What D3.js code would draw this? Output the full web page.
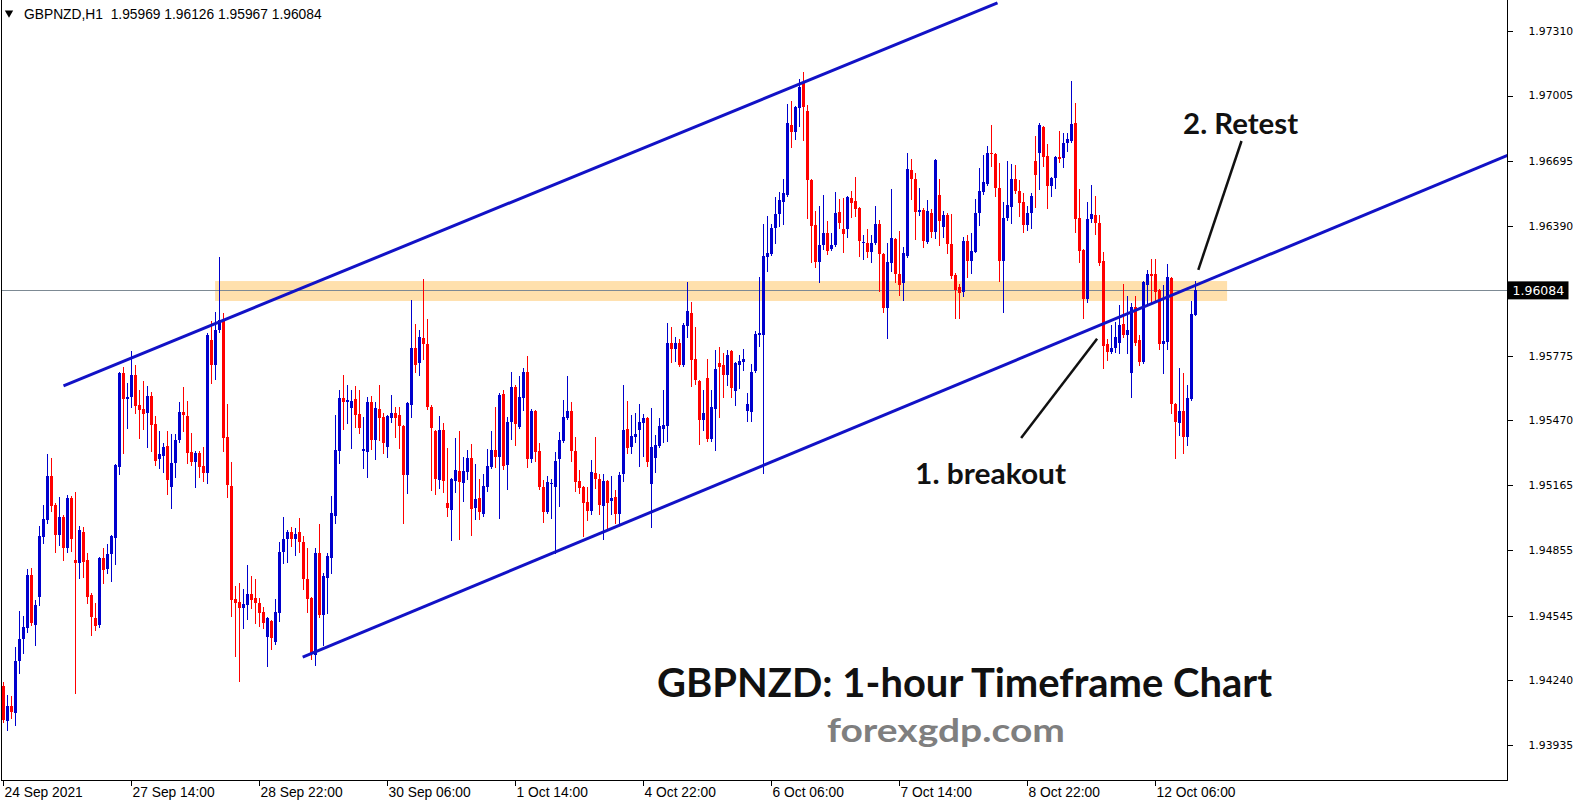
<!DOCTYPE html>
<html><head><meta charset="utf-8">
<script src="https://cdn.jsdelivr.net/npm/d3@7/dist/d3.min.js"></script>
<style>body{margin:0;background:#fff;}svg{display:block;}</style>
</head><body>
<svg id="chart" width="1579" height="807"></svg>
<script>
// ---------------- DATA ----------------
const symbolLabel = "GBPNZD,H1";
const headerOHLC = ["1.95969", "1.96126", "1.95967", "1.96084"];
const currentPrice = 1.96084;

const opens = [
1.94215,1.94049,1.94120,1.94087,1.94332,1.94436,1.94488,1.94739,1.94502,1.94635,
1.94919,1.94999,1.95207,1.95070,1.94928,1.95013,1.94866,1.95103,1.94810,1.94796,
1.94943,1.94810,1.94644,1.94536,1.94502,1.94819,1.94767,1.94838,1.94914,1.95249,
1.95694,1.95570,1.95580,1.95684,1.95542,1.95523,1.95505,1.95585,1.95453,1.95287,
1.95302,1.95349,1.95155,1.95268,1.95377,1.95510,1.95491,1.95321,1.95273,1.95316,
1.95254,1.95221,1.95850,1.95731,1.95897,1.95944,1.95391,1.95160,1.94625,1.94612,
1.94583,1.94597,1.94649,1.94630,1.94607,1.94565,1.94446,1.94521,1.94423,1.94560,
1.94848,1.94909,1.94943,1.94909,1.94943,1.94895,1.94720,1.94630,1.94360,1.94843,
1.94550,1.94725,1.94819,1.95018,1.95325,1.95575,1.95557,1.95528,1.95570,1.95500,
1.95325,1.95321,1.95557,1.95377,1.95523,1.95486,1.95344,1.95481,1.95505,1.95495,
1.95444,1.95211,1.95542,1.95812,1.95741,1.95859,1.95831,1.95533,1.95419,1.95188,
1.95424,1.95080,1.95046,1.95183,1.95230,1.95174,1.95226,1.95292,1.95056,1.95103,
1.95027,1.95155,1.95249,1.95330,1.95297,1.95594,1.95258,1.95463,1.95628,1.95439,
1.95575,1.95699,1.95287,1.95514,1.95325,1.95155,1.95037,1.95169,1.95155,1.95287,
1.95372,1.95481,1.95514,1.95325,1.95183,1.95155,1.95085,1.95041,1.95221,1.95192,
1.95066,1.95183,1.95089,1.95108,1.95027,1.95216,1.95429,1.95344,1.95391,1.95424,
1.95458,1.95481,1.95169,1.95292,1.95349,1.95429,1.95444,1.95836,1.95808,1.95836,
1.95731,1.95916,1.95978,1.95760,1.95656,1.95472,1.95670,1.95382,1.95523,1.95741,
1.95731,1.95684,1.95798,1.95608,1.95731,1.95746,1.95514,1.95510,1.95703,1.95873,
1.95873,1.96242,1.96256,1.96379,1.96445,1.96502,1.96535,1.96866,1.96833,1.96946,
1.97065,1.96932,1.96606,1.96394,1.96218,1.96299,1.96356,1.96280,1.96299,1.96455,
1.96375,1.96375,1.96521,1.96507,1.96474,1.96308,1.96308,1.96265,1.96308,1.96398,
1.96256,1.96001,1.96214,1.96327,1.96162,1.96119,1.96247,1.96653,1.96611,1.96455,
1.96464,1.96313,1.96450,1.96360,1.96535,1.96384,1.96441,1.96303,1.96157,1.96100,
1.96077,1.96318,1.96223,1.96265,1.96450,1.96549,1.96587,1.96734,1.96729,1.96568,
1.96223,1.96427,1.96479,1.96611,1.96554,1.96502,1.96394,1.96450,1.96696,1.96734,
1.96856,1.96720,1.96578,1.96616,1.96715,1.96710,1.96781,1.96791,1.96876,1.96427,
1.96275,1.96043,1.96422,1.96441,1.96403,1.96223,1.95831,1.95794,1.95812,1.95836,
1.95925,1.95873,1.95694,1.96006,1.95850,1.95746,1.96110,1.96162,1.96162,1.96086,
1.95831,1.95840,1.96143,1.95547,1.95458,1.95514,1.95391,1.95570,1.95969
];
const highs = [
1.94234,1.94171,1.94167,1.94399,1.94569,1.94546,1.94767,1.94772,1.94621,1.94971,
1.95070,1.95311,1.95292,1.95080,1.95108,1.95020,1.95117,1.95110,1.95132,1.94971,
1.94966,1.94843,1.94654,1.94607,1.94824,1.94866,1.94885,1.94930,1.95265,1.95699,
1.95722,1.95647,1.95798,1.95731,1.95613,1.95656,1.95633,1.95604,1.95491,1.95419,
1.95363,1.95419,1.95405,1.95405,1.95557,1.95628,1.95561,1.95410,1.95325,1.95325,
1.95344,1.95883,1.95939,1.95983,1.96242,1.95978,1.95547,1.95273,1.94687,1.94701,
1.94672,1.94786,1.94735,1.94720,1.94630,1.94588,1.94541,1.94526,1.94625,1.94895,
1.95013,1.94952,1.94966,1.94961,1.95008,1.94924,1.94866,1.94635,1.94866,1.94980,
1.94749,1.94843,1.95113,1.95495,1.95613,1.95684,1.95637,1.95613,1.95633,1.95613,
1.95486,1.95580,1.95585,1.95557,1.95637,1.95505,1.95495,1.95589,1.95533,1.95533,
1.95449,1.95557,1.96039,1.95925,1.95897,1.96138,1.95949,1.95540,1.95424,1.95491,
1.95458,1.95339,1.95197,1.95386,1.95419,1.95297,1.95330,1.95358,1.95263,1.95192,
1.95216,1.95334,1.95419,1.95533,1.95599,1.95613,1.95486,1.95699,1.95637,1.95680,
1.95717,1.95775,1.95523,1.95519,1.95363,1.95188,1.95207,1.95192,1.95321,1.95415,
1.95566,1.95680,1.95557,1.95391,1.95235,1.95160,1.95155,1.95282,1.95391,1.95216,
1.95216,1.95188,1.95207,1.95141,1.95226,1.95637,1.95561,1.95495,1.95505,1.95547,
1.95500,1.95486,1.95528,1.95400,1.95481,1.95613,1.95930,1.95911,1.95864,1.95855,
1.95930,1.96124,1.96030,1.95911,1.95661,1.95613,1.95760,1.95613,1.95803,1.95817,
1.95789,1.95803,1.95803,1.95745,1.95779,1.95808,1.95599,1.95736,1.95892,1.96148,
1.96398,1.96436,1.96398,1.96526,1.96549,1.96611,1.96965,1.96979,1.96956,1.97084,
1.97117,1.96960,1.96611,1.96460,1.96483,1.96535,1.96412,1.96356,1.96549,1.96516,
1.96521,1.96530,1.96554,1.96620,1.96479,1.96346,1.96375,1.96346,1.96483,1.96417,
1.96261,1.96308,1.96563,1.96332,1.96365,1.96289,1.96734,1.96706,1.96639,1.96568,
1.96474,1.96512,1.96469,1.96706,1.96611,1.96460,1.96450,1.96445,1.96167,1.96114,
1.96337,1.96346,1.96356,1.96516,1.96663,1.96724,1.96767,1.96866,1.96734,1.96687,
1.96502,1.96696,1.96682,1.96677,1.96606,1.96545,1.96483,1.96545,1.96814,1.96876,
1.96861,1.96776,1.96620,1.96720,1.96838,1.96829,1.96829,1.97074,1.96970,1.96563,
1.96280,1.96502,1.96582,1.96530,1.96441,1.96265,1.95855,1.95920,1.95935,1.96015,
1.96114,1.96058,1.96025,1.96058,1.95873,1.96128,1.96181,1.96232,1.96232,1.96091,
1.96110,1.96209,1.96148,1.95552,1.95717,1.95694,1.95637,1.96034,1.96126
];
const lows = [
1.94045,1.94006,1.94063,1.94030,1.94276,1.94370,1.94470,1.94502,1.94408,1.94597,
1.94890,1.94985,1.95041,1.94848,1.94880,1.94810,1.94848,1.94852,1.94181,1.94725,
1.94730,1.94607,1.94455,1.94479,1.94493,1.94701,1.94749,1.94710,1.94791,1.95216,
1.95316,1.95434,1.95533,1.95505,1.95386,1.95429,1.95344,1.95325,1.95258,1.95244,
1.95226,1.95122,1.95056,1.95202,1.95368,1.95419,1.95268,1.95258,1.95155,1.95202,
1.95183,1.95174,1.95647,1.95665,1.95888,1.95325,1.95108,1.94546,1.94356,1.94238,
1.94488,1.94531,1.94583,1.94512,1.94498,1.94488,1.94309,1.94389,1.94413,1.94521,
1.94796,1.94801,1.94876,1.94833,1.94848,1.94672,1.94565,1.94341,1.94313,1.94541,
1.94408,1.94560,1.94749,1.94985,1.95268,1.95429,1.95458,1.95339,1.95439,1.95410,
1.95244,1.95202,1.95334,1.95287,1.95377,1.95316,1.95297,1.95463,1.95391,1.95339,
1.94985,1.95127,1.95486,1.95699,1.95684,1.95760,1.95523,1.95141,1.95122,1.95150,
1.95132,1.95018,1.94904,1.95132,1.94909,1.95089,1.95192,1.94928,1.95003,1.95003,
1.95018,1.95136,1.95244,1.95249,1.95008,1.95240,1.95146,1.95382,1.95353,1.95434,
1.95519,1.95249,1.95273,1.95277,1.95145,1.94990,1.95032,1.95008,1.94843,1.95066,
1.95368,1.95477,1.95277,1.95136,1.95127,1.94924,1.94999,1.95027,1.95150,1.95027,
1.94909,1.94952,1.95027,1.94985,1.94985,1.95183,1.95316,1.95316,1.95368,1.95254,
1.95302,1.95254,1.94966,1.95226,1.95344,1.95368,1.95372,1.95746,1.95750,1.95726,
1.95726,1.95864,1.95633,1.95642,1.95358,1.95424,1.95372,1.95372,1.95330,1.95486,
1.95580,1.95637,1.95580,1.95542,1.95623,1.95708,1.95467,1.95467,1.95698,1.95822,
1.95221,1.96176,1.96251,1.96308,1.96389,1.96398,1.96530,1.96762,1.96800,1.96862,
1.96795,1.96427,1.96218,1.96195,1.96124,1.96280,1.96256,1.96275,1.96294,1.96379,
1.96265,1.96337,1.96431,1.96436,1.96247,1.96232,1.96242,1.96218,1.96303,1.96081,
1.95983,1.95859,1.96176,1.96124,1.96062,1.96039,1.96242,1.96516,1.96327,1.96441,
1.96289,1.96308,1.96337,1.96332,1.96299,1.96337,1.96261,1.96143,1.95954,1.95954,
1.96058,1.96148,1.96167,1.96265,1.96394,1.96540,1.96582,1.96672,1.96530,1.96129,
1.95983,1.96417,1.96403,1.96545,1.96436,1.96360,1.96370,1.96379,1.96479,1.96563,
1.96672,1.96474,1.96530,1.96568,1.96691,1.96668,1.96743,1.96786,1.96360,1.96218,
1.95954,1.96030,1.96408,1.96351,1.96204,1.95717,1.95755,1.95789,1.95794,1.95789,
1.95864,1.95789,1.95580,1.95827,1.95731,1.95741,1.96025,1.96030,1.96030,1.95808,
1.95694,1.95808,1.95505,1.95292,1.95400,1.95316,1.95353,1.95566,1.95967
];
const closes = [
1.94054,1.94120,1.94092,1.94332,1.94436,1.94493,1.94739,1.94512,1.94597,1.94924,
1.95003,1.95207,1.95066,1.94928,1.95013,1.94866,1.95103,1.94909,1.94796,1.94952,
1.94801,1.94635,1.94541,1.94498,1.94819,1.94763,1.94838,1.94924,1.95258,1.95694,
1.95570,1.95580,1.95684,1.95538,1.95519,1.95500,1.95585,1.95448,1.95277,1.95311,
1.95344,1.95188,1.95268,1.95377,1.95510,1.95495,1.95316,1.95273,1.95316,1.95249,
1.95221,1.95873,1.95731,1.95897,1.95944,1.95386,1.95164,1.94621,1.94607,1.94583,
1.94602,1.94649,1.94621,1.94607,1.94560,1.94512,1.94536,1.94441,1.94565,1.94848,
1.94909,1.94943,1.94909,1.94933,1.94895,1.94720,1.94625,1.94370,1.94843,1.94550,
1.94735,1.94829,1.95032,1.95330,1.95575,1.95557,1.95566,1.95561,1.95495,1.95434,
1.95334,1.95557,1.95377,1.95528,1.95481,1.95363,1.95491,1.95505,1.95481,1.95444,
1.95211,1.95552,1.95812,1.95731,1.95864,1.95831,1.95533,1.95434,1.95192,1.95424,
1.95183,1.95056,1.95192,1.95235,1.95179,1.95230,1.95292,1.95051,1.95098,1.95037,
1.95160,1.95254,1.95330,1.95297,1.95589,1.95254,1.95463,1.95628,1.95453,1.95580,
1.95699,1.95287,1.95514,1.95321,1.95155,1.95037,1.95179,1.95174,1.95277,1.95377,
1.95486,1.95514,1.95325,1.95179,1.95150,1.95080,1.95041,1.95226,1.95192,1.95070,
1.95183,1.95080,1.95103,1.95027,1.95211,1.95424,1.95339,1.95396,1.95405,1.95463,
1.95481,1.95273,1.95344,1.95353,1.95444,1.95448,1.95836,1.95808,1.95836,1.95731,
1.95920,1.95987,1.95755,1.95661,1.95472,1.95505,1.95382,1.95533,1.95712,1.95722,
1.95684,1.95779,1.95623,1.95741,1.95750,1.95760,1.95547,1.95699,1.95878,1.95883,
1.96247,1.96261,1.96379,1.96445,1.96512,1.96545,1.96876,1.96833,1.96951,1.97046,
1.96951,1.96606,1.96389,1.96218,1.96299,1.96356,1.96270,1.96299,1.96450,1.96403,
1.96351,1.96526,1.96498,1.96469,1.96318,1.96313,1.96265,1.96308,1.96398,1.96256,
1.96001,1.96218,1.96332,1.96162,1.96110,1.96261,1.96658,1.96611,1.96455,1.96464,
1.96318,1.96460,1.96360,1.96701,1.96412,1.96441,1.96303,1.96152,1.96086,1.96072,
1.96318,1.96223,1.96270,1.96450,1.96554,1.96597,1.96734,1.96729,1.96568,1.96223,
1.96427,1.96488,1.96611,1.96554,1.96498,1.96394,1.96450,1.96530,1.96630,1.96866,
1.96715,1.96578,1.96616,1.96715,1.96706,1.96781,1.96800,1.96871,1.96422,1.96270,
1.96043,1.96422,1.96445,1.96403,1.96214,1.95822,1.95794,1.95812,1.95864,1.95920,
1.95873,1.95897,1.96006,1.95836,1.95746,1.96124,1.96162,1.96152,1.96077,1.95831,
1.95845,1.96148,1.95547,1.95463,1.95514,1.95391,1.95575,1.95973,1.96084
];

const priceTicks = [1.97310, 1.97005, 1.96695, 1.96390, 1.95775, 1.95470, 1.95165, 1.94855, 1.94545, 1.94240, 1.93935];
const timeTickBars = [0, 32, 64, 96, 128, 160, 192, 224, 256, 288];
const timeTickLabels = ["24 Sep 2021", "27 Sep 14:00", "28 Sep 22:00", "30 Sep 06:00", "1 Oct 14:00",
  "4 Oct 22:00", "6 Oct 06:00", "7 Oct 14:00", "8 Oct 22:00", "12 Oct 06:00"];

// channel lines: [bar, price]
const upperChannel = [[15, 1.95633], [248.5, 1.97443]];
const lowerChannel = [[74.8, 1.94350], [376, 1.96722]];
// resistance / support zone
const zoneBars = [52.9, 305.9];
const zonePrices = [1.96034, 1.96128];
// annotations
const breakoutArrow = [[254.4, 1.95386], [273.4, 1.95855]];
const retestArrow = [[309.5, 1.96790], [298.7, 1.96181]];
const annotationTexts = [
  {text: "1. breakout", bar: 227.9, price: 1.95171, width: 151},
  {text: "2. Retest", bar: 294.9, price: 1.96824, width: 115}
];
const chartTitle = "GBPNZD: 1-hour Timeframe Chart";
const watermark = "forexgdp.com";

// ---------------- DRAW ----------------
const plotRight = 1507.5, plotBottom = 780.5, plotLeft = 1.5;
const svg = d3.select("#chart");

const x = d3.scaleLinear().domain([0, 376]).range([3.5, 1507.5]);
const y = d3.scaleLinear().domain([1.93935, 1.97310]).range([745, 31]);

const BULL = "#0000CD", BEAR = "#FF0000", LINEBLUE = "#1212C6";

svg.append("defs").append("clipPath").attr("id", "plotclip")
  .append("rect").attr("x", plotLeft).attr("y", 0).attr("width", plotRight - plotLeft).attr("height", plotBottom);

const plot = svg.append("g").attr("clip-path", "url(#plotclip)");

// zone
plot.append("rect")
  .attr("x", x(zoneBars[0])).attr("width", x(zoneBars[1]) - x(zoneBars[0]))
  .attr("y", y(zonePrices[1])).attr("height", y(zonePrices[0]) - y(zonePrices[1]))
  .attr("fill", "#FFE0AC");

// current price line
plot.append("line")
  .attr("x1", plotLeft).attr("x2", plotRight)
  .attr("y1", Math.round(y(currentPrice)) + 0.5).attr("y2", Math.round(y(currentPrice)) + 0.5)
  .attr("stroke", "#7d8a94").attr("stroke-width", 1);

// candles
const candles = d3.range(opens.length).map(i => ({i, o: opens[i], h: highs[i], l: lows[i], c: closes[i]}));
const cg = plot.append("g").attr("shape-rendering", "crispEdges");
cg.selectAll("line.wick").data(candles).join("line")
  .attr("class", "wick")
  .attr("x1", d => x(d.i)).attr("x2", d => x(d.i))
  .attr("y1", d => Math.round(y(d.h))).attr("y2", d => Math.round(y(d.l)) + 1)
  .attr("stroke", d => d.c >= d.o ? BULL : BEAR).attr("stroke-width", 1);
cg.selectAll("rect.body").data(candles).join("rect")
  .attr("class", "body")
  .attr("x", d => x(d.i) - 1.5).attr("width", 3)
  .attr("y", d => Math.round(y(Math.max(d.o, d.c))))
  .attr("height", d => Math.max(1, Math.round(y(Math.min(d.o, d.c))) - Math.round(y(Math.max(d.o, d.c)))))
  .attr("fill", d => d.c >= d.o ? BULL : BEAR);

// channel lines
const lineGen = d3.line().x(d => x(d[0])).y(d => y(d[1]));
[upperChannel, lowerChannel].forEach(pts => {
  plot.append("path").attr("d", lineGen(pts)).attr("fill", "none")
    .attr("stroke", LINEBLUE).attr("stroke-width", 3);
});

// annotation arrows
[breakoutArrow, retestArrow].forEach(pts => {
  plot.append("path").attr("d", lineGen(pts)).attr("fill", "none")
    .attr("stroke", "#111").attr("stroke-width", 2.5);
});

// annotation texts
annotationTexts.forEach(a => {
  plot.append("text").attr("x", x(a.bar)).attr("y", y(a.price))
    .attr("font-family", "Lato, 'Open Sans', sans-serif").attr("font-weight", 700)
    .attr("font-size", 29).attr("fill", "#111")
    .attr("textLength", a.width).attr("lengthAdjust", "spacingAndGlyphs")
    .text(a.text);
});

// title and watermark
svg.append("text").attr("x", 657).attr("y", 697)
  .attr("font-family", "Lato, 'Open Sans', sans-serif").attr("font-weight", 700)
  .attr("font-size", 41).attr("fill", "#111")
  .attr("textLength", 615).attr("lengthAdjust", "spacingAndGlyphs")
  .text(chartTitle);
svg.append("text").attr("x", 827).attr("y", 742)
  .attr("font-family", "Lato, 'Open Sans', sans-serif").attr("font-weight", 700)
  .attr("font-size", 32).attr("fill", "#7f7f7f")
  .attr("textLength", 238).attr("lengthAdjust", "spacingAndGlyphs")
  .text(watermark);

// frame
const frame = svg.append("g").attr("shape-rendering", "crispEdges").attr("stroke", "#000").attr("stroke-width", 1);
frame.append("line").attr("x1", plotLeft).attr("x2", plotLeft).attr("y1", 0).attr("y2", plotBottom);
frame.append("line").attr("x1", plotRight).attr("x2", plotRight).attr("y1", 0).attr("y2", plotBottom);
frame.append("line").attr("x1", plotLeft).attr("x2", plotRight).attr("y1", plotBottom).attr("y2", plotBottom);

// y axis (right)
const yAxis = d3.axisRight(y).tickValues(priceTicks).tickSize(5).tickPadding(16).tickFormat(d3.format(".5f"));
const ya = svg.append("g").attr("transform", `translate(${plotRight},0)`).call(yAxis);
ya.select(".domain").remove();
ya.selectAll("line").attr("stroke", "#000").attr("shape-rendering", "crispEdges");
ya.selectAll("text").attr("font-family", "'DejaVu Sans', sans-serif").attr("font-size", 10.8).attr("fill", "#000");

// current price label
const cpY = y(currentPrice);
svg.append("rect").attr("x", plotRight).attr("y", cpY - 9).attr("width", 61).attr("height", 18).attr("fill", "#000");
svg.append("text").attr("x", plotRight + 5).attr("y", cpY).attr("dy", "0.36em")
  .attr("font-family", "'DejaVu Sans', sans-serif").attr("font-size", 12.5).attr("fill", "#fff")
  .text(d3.format(".5f")(currentPrice));

// x axis (bottom)
const xa = svg.append("g").attr("transform", `translate(0,${plotBottom})`);
xa.selectAll("line").data(timeTickBars).join("line")
  .attr("x1", d => x(d)).attr("x2", d => x(d)).attr("y1", 0).attr("y2", 5)
  .attr("stroke", "#000").attr("shape-rendering", "crispEdges");
xa.selectAll("text").data(timeTickBars).join("text")
  .attr("x", d => x(d) + 1).attr("y", 16.5)
  .attr("font-family", "'Liberation Sans', Arial, sans-serif").attr("font-size", 13.8).attr("fill", "#000")
  .text((d, i) => timeTickLabels[i]);

// header
svg.append("path").attr("d", d3.symbol().type(d3.symbolTriangle).size(30)()).attr("transform", "translate(9,13) rotate(180)").attr("fill", "#000");
svg.append("text").attr("x", 24).attr("y", 19)
  .attr("font-family", "'Liberation Sans', Arial, sans-serif").attr("font-size", 13.8).attr("fill", "#000")
  .attr("xml:space", "preserve")
  .text(symbolLabel + "  " + headerOHLC.join(" "));
</script>
</body></html>
